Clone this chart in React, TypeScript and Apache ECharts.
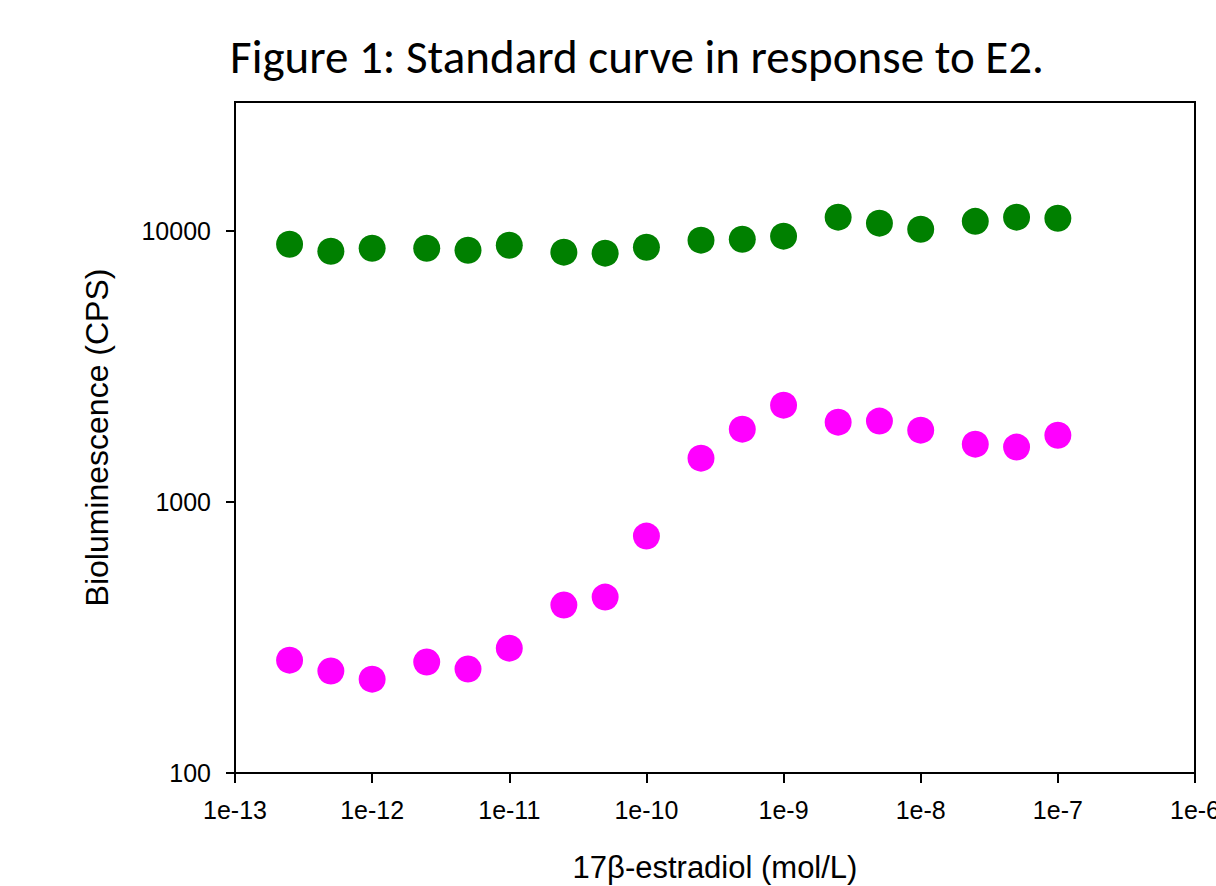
import React, { useEffect, useRef } from "react";
import * as echarts from "echarts";

const concentrations = [
  2.5e-13, 5e-13, 1e-12, 2.5e-12, 5e-12, 1e-11, 2.5e-11, 5e-11, 1e-10,
  2.5e-10, 5e-10, 1e-9, 2.5e-9, 5e-9, 1e-8, 2.5e-8, 5e-8, 1e-7,
];
const greenValues = [
  8950, 8440, 8650, 8650, 8510, 8880, 8370, 8300, 8730,
  9270, 9340, 9590, 11270, 10710, 10170, 10880, 11270, 11170,
];
const magentaValues = [
  261, 238, 222, 257, 242, 289, 417, 446, 749,
  1453, 1859, 2280, 1973, 1991, 1844, 1637, 1596, 1766,
];
const yTickValues = [100, 1000, 10000];
const titleText = "Figure 1: Standard curve in response to E2.";
const xAxisTitle = "17\u03b2-estradiol (mol/L)";
const yAxisTitle = "Bioluminescence (CPS)";

export default function App() {
  const ref = useRef<HTMLDivElement>(null);
  useEffect(() => {
    if (!ref.current) return;
    const chart = echarts.init(ref.current, null, { renderer: "svg" });
    const font = "'Liberation Sans', Arial, sans-serif";
    chart.setOption({
      animation: false,
      backgroundColor: "#ffffff",
      title: {
        text: titleText,
        left: 632,
        top: 28,
        textAlign: "center",
        textStyle: {
          fontFamily: "Carlito, 'Open Sans', sans-serif",
          fontSize: 47,
          fontWeight: "normal",
          color: "#000",
        },
      },
      grid: {
        left: 235,
        right: 21,
        top: 102,
        bottom: 113,
        outerBoundsMode: "none",
        containLabel: false,
        show: true,
        borderColor: "#000",
        borderWidth: 2,
        backgroundColor: "transparent",
      },
      xAxis: {
        type: "log",
        logBase: 10,
        min: 1e-13,
        max: 1e-6,
        name: xAxisTitle,
        nameLocation: "middle",
        nameGap: 80,
        nameTextStyle: { fontFamily: font, fontSize: 31, lineHeight: 28, color: "#000" },
        axisLine: { show: true, lineStyle: { color: "#000", width: 2 } },
        axisTick: { show: true, inside: false, length: 10, lineStyle: { color: "#000", width: 2 } },
        minorTick: { show: false },
        splitLine: { show: false },
        axisLabel: {
          margin: 24,
          fontFamily: font,
          fontSize: 25,
          color: "#000",
          hideOverlap: false,
          formatter: (v: number) => "1e" + Math.round(Math.log10(v)),
        },
      },
      yAxis: {
        type: "log",
        logBase: 10,
        min: 100,
        max: 30000,
        name: yAxisTitle,
        nameLocation: "middle",
        nameGap: 122,
        nameTextStyle: { fontFamily: font, fontSize: 32, color: "#000" },
        axisLine: { show: true, lineStyle: { color: "#000", width: 2 } },
        axisTick: {
          show: true,
          inside: false,
          length: 9,
          customValues: yTickValues,
          lineStyle: { color: "#000", width: 2 },
        },
        minorTick: { show: false },
        splitLine: { show: false },
        axisLabel: {
          margin: 24,
          fontFamily: font,
          fontSize: 25,
          color: "#000",
          customValues: yTickValues,
          formatter: (v: number) => String(Math.round(v)),
        },
      },
      series: [
        {
          type: "scatter",
          symbol: "circle",
          symbolSize: 27,
          itemStyle: { color: "#008000", opacity: 1 },
          data: concentrations.map((c, i) => [c, greenValues[i]]),
        },
        {
          type: "scatter",
          symbol: "circle",
          symbolSize: 27,
          itemStyle: { color: "#ff00ff", opacity: 1 },
          data: concentrations.map((c, i) => [c, magentaValues[i]]),
        },
      ],
    });
    return () => chart.dispose();
  }, []);
  return (
    <div
      ref={ref}
      style={{ position: "fixed", left: 0, top: 0, width: 1216, height: 886, background: "#fff" }}
    />
  );
}
